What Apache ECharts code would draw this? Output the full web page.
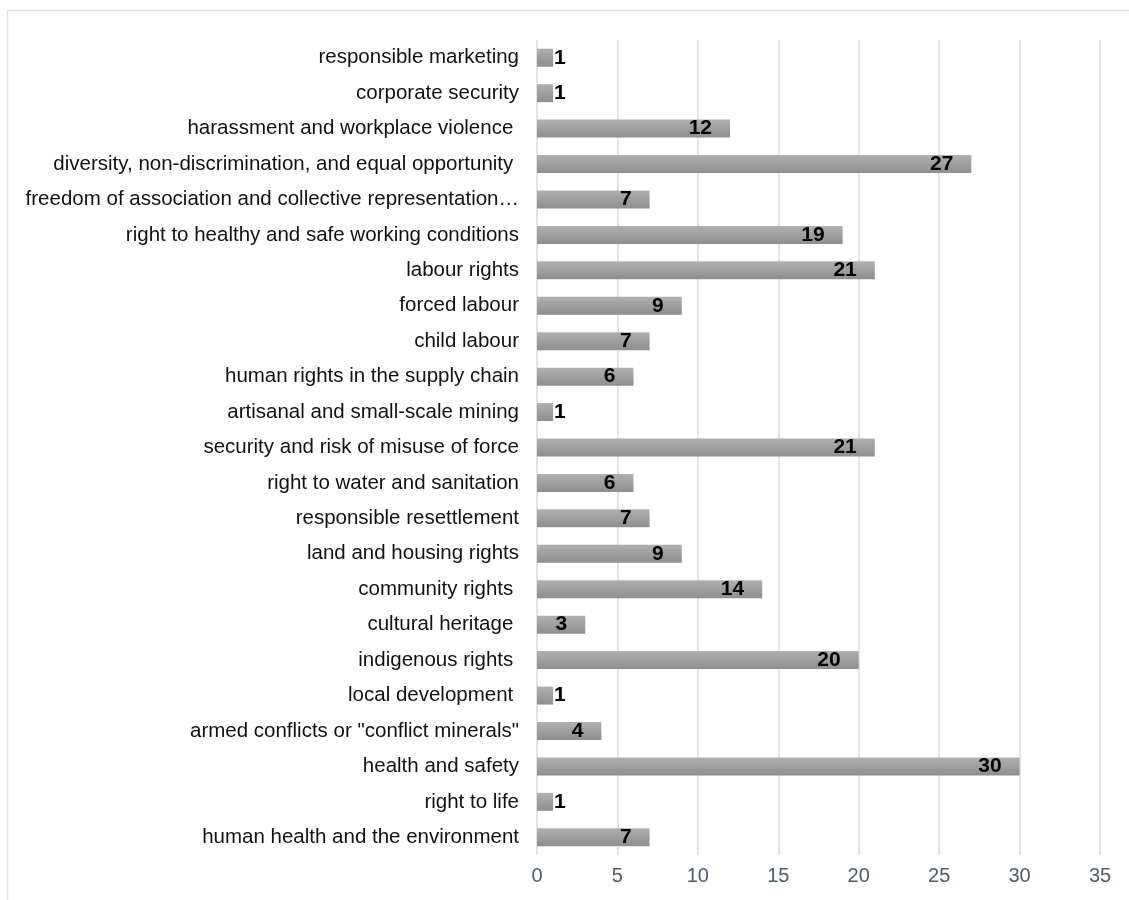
<!DOCTYPE html>
<html>
<head>
<meta charset="utf-8">
<script src="https://cdn.jsdelivr.net/npm/echarts@6/dist/echarts.min.js"></script>
<style>
    html, body, #main {
        width: 100%;
        height: 100%;
        margin: 0;
        background: #fff;
    }
</style>
</head>
<body>
<div id="main"></div>
<script>
    // top to bottom, as in the picture
    var categories = [
        'responsible marketing',
        'corporate security',
        'harassment and workplace violence ',
        'diversity, non-discrimination, and equal opportunity ',
        'freedom of association and collective representation\u2026',
        'right to healthy and safe working conditions',
        'labour rights',
        'forced labour',
        'child labour',
        'human rights in the supply chain',
        'artisanal and small-scale mining',
        'security and risk of misuse of force',
        'right to water and sanitation',
        'responsible resettlement',
        'land and housing rights',
        'community rights ',
        'cultural heritage ',
        'indigenous rights ',
        'local development ',
        'armed conflicts or "conflict minerals"',
        'health and safety',
        'right to life',
        'human health and the environment'
    ];
    var counts = [1, 1, 12, 27, 7, 19, 21, 9, 7, 6, 1, 21, 6, 7, 9, 14, 3, 20, 1, 4, 30, 1, 7];

    var axisMin = 0;
    var axisMax = 35;
    var axisStep = 5;

    var chart = echarts.init(document.getElementById('main'));

    var barFill = new echarts.graphic.LinearGradient(0, 0, 0, 1, [
        {offset: 0, color: '#b0b0b0'},
        {offset: 1, color: '#8e8e8e'}
    ]);

    // tiny bars: Excel pushes the label just outside
    var barData = counts.map(function (v) {
        var item = {value: v};
        if (v < 2) {
            item.label = {position: 'right', distance: 1};
        }
        return item;
    });

    chart.setOption({
        animation: false,
        grid: {
            left: 537,
            right: 29,
            top: 40,
            bottom: 45,
            containLabel: false
        },
        graphic: [{
            type: 'rect',
            silent: true,
            shape: {x: 7.5, y: 10.5, width: 1300, height: 1000},
            style: {fill: 'none', stroke: '#dfe4ec', lineWidth: 1.5}
        }],
        xAxis: {
            type: 'value',
            min: axisMin,
            max: axisMax,
            interval: axisStep,
            axisLine: {show: false},
            axisTick: {show: false},
            axisLabel: {
                color: '#4d5b73',
                fontSize: 20,
                fontFamily: 'Liberation Sans, Arial, sans-serif',
                margin: 11
            },
            splitLine: {
                lineStyle: {color: '#dfe4ec', width: 2}
            }
        },
        yAxis: {
            type: 'category',
            inverse: true,
            data: categories,
            axisLine: {show: false},
            axisTick: {show: false},
            axisLabel: {
                color: '#111',
                fontSize: 20.5,
                fontFamily: 'Liberation Sans, Arial, sans-serif',
                margin: 18
            }
        },
        series: [{
            type: 'bar',
            data: barData,
            barWidth: 18,
            itemStyle: {color: barFill},
            label: {
                show: true,
                position: 'insideRight',
                distance: 18,
                color: '#000',
                fontWeight: 'bold',
                fontSize: 21,
                fontFamily: 'Liberation Sans, Arial, sans-serif'
            }
        }]
    });
</script>
</body>
</html>
